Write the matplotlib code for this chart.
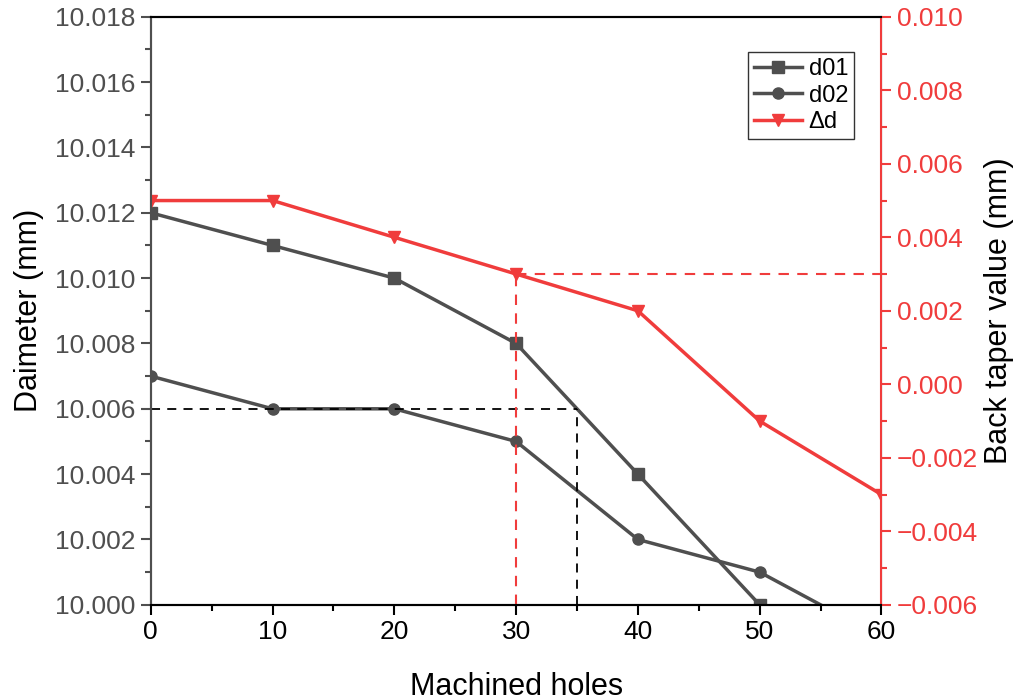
import matplotlib.pyplot as plt

plt.rcParams['font.family'] = ['Liberation Sans', 'DejaVu Sans']

holes = [0, 10, 20, 30, 40, 50, 60]
d01 = [10.012, 10.011, 10.010, 10.008, 10.004, 10.000, 9.996]
d02 = [10.007, 10.006, 10.006, 10.005, 10.002, 10.001, 9.999]
delta = [0.005, 0.005, 0.004, 0.003, 0.002, -0.001, -0.003]

gray = '#4f4f4f'
red = '#f03c3c'

fig = plt.figure(figsize=(10.19, 7), dpi=100)
ax = fig.add_axes([0.148, 0.136, 0.717, 0.840])
ax2 = ax.twinx()

l1, = ax.plot(holes, d01, color=gray, marker='s', markersize=8, lw=2.5, label='d01')
l2, = ax.plot(holes, d02, color=gray, marker='o', markersize=8, lw=2.5, label='d02')
l3, = ax2.plot(holes, delta, color=red, marker='v', markersize=9, lw=2.5, label='Δd')

# guide lines
ax.plot([0, 35], [10.006, 10.006], 'k--', lw=1.3, dashes=(5, 4))
ax.plot([35, 35], [10.000, 10.006], 'k--', lw=1.3, dashes=(5, 4))
ax2.plot([30, 30], [-0.006, 0.003], '--', color=red, lw=1.5, dashes=(5, 4))
ax2.plot([30, 60], [0.003, 0.003], '--', color=red, lw=1.5, dashes=(5, 4))

ax.set_xlim(0, 60)
ax.set_ylim(10.000, 10.018)
ax2.set_ylim(-0.006, 0.010)

ax.set_xticks(range(0, 61, 10))
ax.set_xticks(range(5, 60, 10), minor=True)
ax.set_yticks([10.000 + 0.002 * i for i in range(10)])
ax.set_yticks([10.001 + 0.002 * i for i in range(9)], minor=True)
ax.set_yticklabels(['%.3f' % (10.000 + 0.002 * i) for i in range(10)])
ax2.set_yticks([-0.006 + 0.002 * i for i in range(9)])
ax2.set_yticks([-0.005 + 0.002 * i for i in range(8)], minor=True)
ax2.set_yticklabels([('%.3f' % (-0.006 + 0.002 * i)).replace('-', '\u2212') if abs(-0.006 + 0.002 * i) > 1e-9 else '0.000' for i in range(9)])

ax.tick_params(axis='x', which='both', direction='out', width=1.5, labelsize=19, colors='black', pad=4)
ax.tick_params(axis='x', which='major', length=7)
ax.tick_params(axis='x', which='minor', length=4)
ax.tick_params(axis='y', which='both', direction='out', width=1.5, labelsize=19, colors=gray, pad=4)
ax.tick_params(axis='y', which='major', length=7)
ax.tick_params(axis='y', which='minor', length=4)
ax2.tick_params(axis='y', which='both', direction='out', width=1.5, labelsize=19, colors=red, pad=4)
ax2.tick_params(axis='y', which='major', length=7)
ax2.tick_params(axis='y', which='minor', length=4)

for s in ['top', 'bottom']:
    ax.spines[s].set_linewidth(1.5)
    ax.spines[s].set_color('black')
    ax2.spines[s].set_linewidth(1.5)
    ax2.spines[s].set_color('black')
ax2.spines['left'].set_color(gray)
ax2.spines['left'].set_linewidth(1.5)
ax.spines['left'].set_color(gray)
ax.spines['left'].set_linewidth(1.5)
ax2.spines['right'].set_color(red)
ax2.spines['right'].set_linewidth(1.5)

ax.set_xlabel('Machined holes', fontsize=22, labelpad=20)
ax.set_ylabel('Daimeter (mm)', fontsize=22, labelpad=8)
ax2.set_ylabel('Back taper value (mm)', fontsize=22, labelpad=4)

leg = ax2.legend(handles=[l1, l2, l3], loc='upper left', bbox_to_anchor=(0.818, 0.94),
                 fontsize=17, frameon=True, fancybox=False, handlelength=2.0,
                 borderpad=0.25, labelspacing=0.2, handletextpad=0.3, borderaxespad=0)
leg.get_frame().set_edgecolor('black')
leg.get_frame().set_linewidth(1.0)

fig.savefig('out.png', dpi=100)
